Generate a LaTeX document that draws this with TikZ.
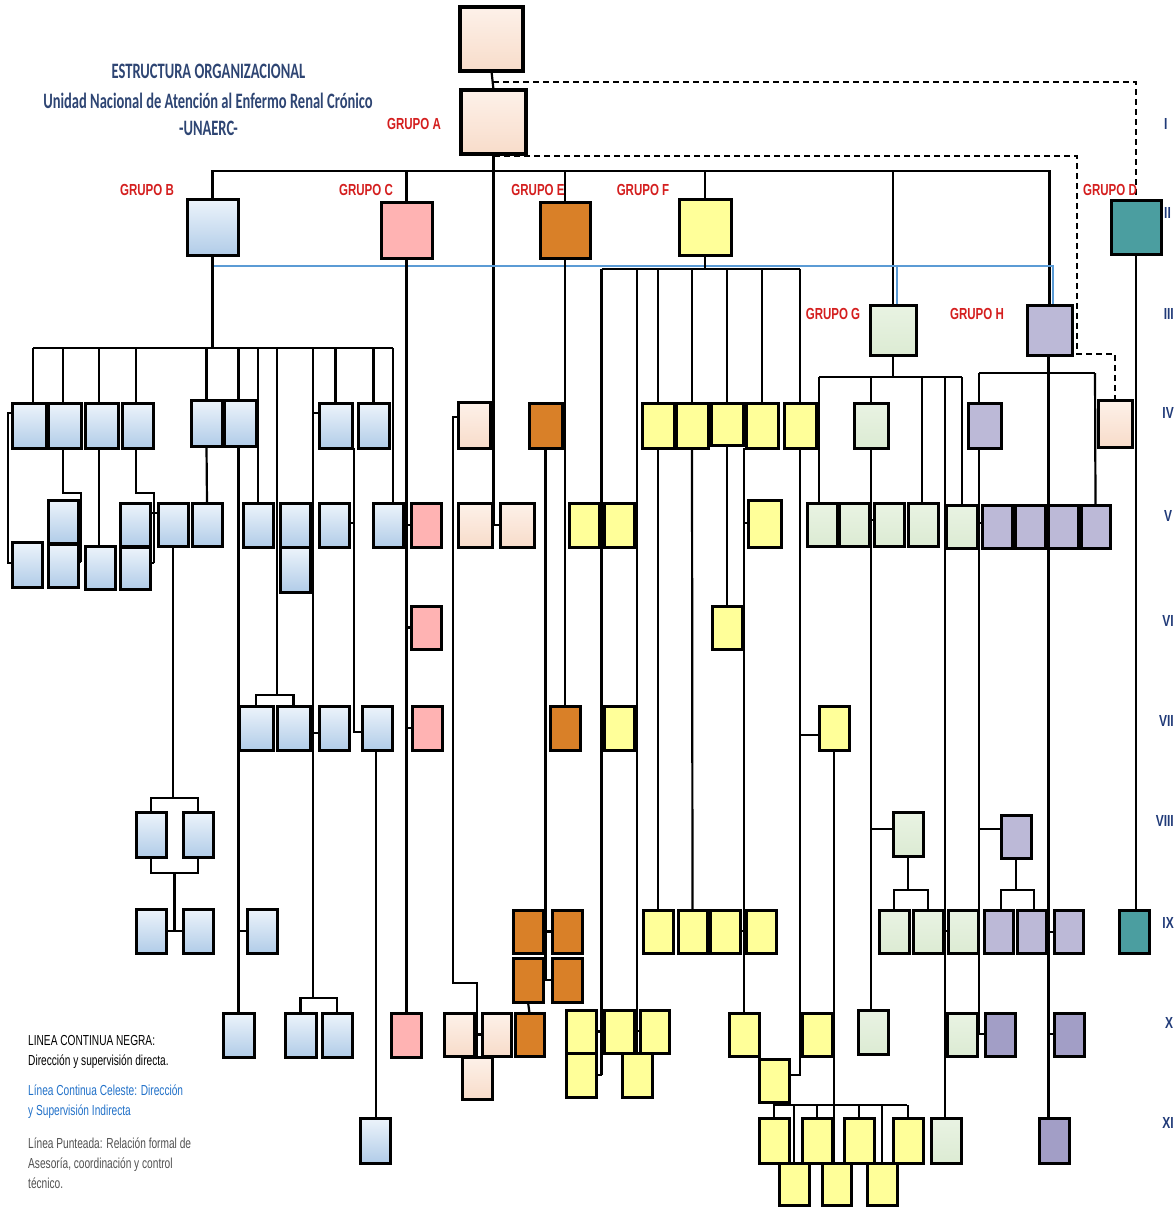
\documentclass[tikz,border=0pt]{standalone}
\usepackage{fontspec}
\setmainfont{Liberation Sans}
\newfontfamily\ttlfont[FakeStretch=0.66]{Carlito}
\newfontfamily\grpfont[FakeStretch=0.72]{Liberation Sans}
\newfontfamily\legfont[FakeStretch=0.7]{Liberation Sans}
\newfontfamily\numfont[FakeStretch=0.75]{Liberation Sans}
\definecolor{peT}{HTML}{FDF1E9}\definecolor{peB}{HTML}{F8DCCA}
\definecolor{blT}{HTML}{EDF4FB}\definecolor{blB}{HTML}{B1CCE8}
\definecolor{pkC}{HTML}{FFB3B3}
\definecolor{orC}{HTML}{D98028}
\definecolor{yeC}{HTML}{FFFF99}
\definecolor{grT}{HTML}{E9F3E3}\definecolor{grB}{HTML}{DCEBD3}
\definecolor{lvC}{HTML}{BCB9D7}
\definecolor{lvD}{HTML}{A29EC6}
\definecolor{tlC}{HTML}{4B9EA0}
\definecolor{celeste}{HTML}{5B9BD5}
\definecolor{navy}{HTML}{2E4573}
\definecolor{navytwo}{HTML}{203A78}
\definecolor{grpred}{HTML}{D41F1F}
\definecolor{legblue}{HTML}{2070C8}
\definecolor{leggray}{HTML}{505050}
\pgfdeclarelayer{bg}
\pgfsetlayers{bg,main}
\newcommand{\obox}[6]{\node[#2, minimum width={(#5)-(#3)}, minimum height={(#6)-(#4)}] (#1) at ({((#3)+(#5))/2},{((#4)+(#6))/2}) {};}
\begin{document}
\begin{tikzpicture}[x=1pt,y=-1pt,
 bx/.style={draw=black,line width=3pt,inner sep=0pt,outer sep=0pt},
 pe/.style={bx,top color=peT,bottom color=peB},
 bl/.style={bx,top color=blT,bottom color=blB},
 pk/.style={bx,fill=pkC},
 orb/.style={bx,fill=orC},
 ye/.style={bx,fill=yeC},
 gr/.style={bx,top color=grT,bottom color=grB},
 lv/.style={bx,fill=lvC},
 lvd/.style={bx,fill=lvD},
 tl/.style={bx,fill=tlC},
 ln/.style={line width=2.2pt,black},
 dl/.style={line width=2.4pt,black,dash pattern=on 6pt off 4pt},
 cl/.style={line width=2pt,celeste},
 ttl/.style={font=\ttlfont\bfseries\fontsize{22}{24}\selectfont,text=navy,inner sep=0pt,anchor=base},
 grp/.style={font=\grpfont\bfseries\fontsize{16}{18}\selectfont,text=grpred,inner sep=0pt,anchor=base},
 leg/.style={font=\legfont\fontsize{14.5}{16}\selectfont,inner sep=0pt,anchor=base west},
 num/.style={font=\numfont\bfseries\fontsize{16}{18}\selectfont,text=navytwo,inner sep=0pt,anchor=base west},
 nume/.style={num,anchor=base east}]
\useasboundingbox (0,0) rectangle (1175,1207);

% ---------- boxes ----------
\obox{T1}{pe,line width=3.4pt}{460}{7}{523}{71}
\obox{T2}{pe,line width=3.4pt}{461}{90}{526}{154}
\obox{B0}{bl}{187}{199}{238}{255}
\obox{C0}{pk}{381}{202}{432}{258}
\obox{E0}{orb}{540}{202}{590}{258}
\obox{F0}{ye}{679}{199}{731}{255}
\obox{D0}{tl}{1111}{200}{1161}{254}
\obox{G0}{gr}{870}{305}{916}{355}
\obox{H0}{lv}{1027}{305}{1072}{355}
% row IV
\obox{b1}{bl}{12}{403}{46}{448}
\obox{b2}{bl}{48}{403}{81}{448}
\obox{b3}{bl}{85}{403}{118}{448}
\obox{b4}{bl}{122}{403}{153}{448}
\obox{b5}{bl}{191}{400}{222}{446}
\obox{b6}{bl}{224}{400}{256}{446}
\obox{b7}{bl}{319}{403}{352}{448}
\obox{b8}{bl}{358}{403}{389}{448}
\obox{p1}{pe}{458}{402}{490}{448}
\obox{e1}{orb}{529}{403}{562}{448}
\obox{y1}{ye}{642}{403}{674}{448}
\obox{y2}{ye}{676}{403}{708}{448}
\obox{y3}{ye}{711}{403}{743}{445}
\obox{y4}{ye}{746}{403}{778}{448}
\obox{y5}{ye}{784}{403}{816}{448}
\obox{g1}{gr}{854}{403}{888}{448}
\obox{h1}{lv}{968}{403}{1001}{448}
\obox{p2}{pe}{1098}{400}{1132}{447}
% row V
\obox{bv1}{bl}{48}{500}{78}{543}
\obox{bv1b}{bl}{48}{544}{78}{587}
\obox{bv0}{bl}{12}{542}{42}{587}
\obox{bv3}{bl}{85}{546}{115}{589}
\obox{bv4}{bl}{120}{503}{150}{546}
\obox{bv4b}{bl}{120}{547}{150}{589}
\obox{bv4c}{bl}{158}{503}{188}{546}
\obox{bv5}{bl}{192}{503}{222}{546}
\obox{bv6}{bl}{243}{503}{273}{547}
\obox{bv7}{bl}{280}{503}{310}{547}
\obox{bv7b}{bl}{280}{547}{310}{592}
\obox{bv8}{bl}{319}{503}{349}{547}
\obox{bv9}{bl}{373}{503}{403}{547}
\obox{cv1}{pk}{411}{503}{441}{547}
\obox{pv1}{pe}{458}{503}{492}{547}
\obox{pv2}{pe}{500}{503}{534}{547}
\obox{yv1}{ye}{569}{503}{599}{547}
\obox{yv2}{ye}{604}{503}{634}{547}
\obox{yv3}{ye}{748}{500}{781}{547}
\obox{gv1}{gr}{807}{503}{837}{546}
\obox{gv2}{gr}{839}{503}{869}{546}
\obox{gv3}{gr}{874}{503}{904}{546}
\obox{gv4}{gr}{908}{503}{938}{546}
\obox{gv5}{gr}{946}{505}{977}{548}
\obox{hv1}{lv}{982}{505}{1012}{548}
\obox{hv2}{lv}{1015}{505}{1045}{548}
\obox{hv3}{lv}{1048}{505}{1078}{548}
\obox{hv4}{lv}{1081}{505}{1110}{548}
% row VI
\obox{cv2}{pk}{411}{606}{441}{649}
\obox{yv6}{ye}{712}{606}{742}{649}
% row VII
\obox{c1}{bl}{239}{706}{273}{750}
\obox{c2}{bl}{277}{706}{310}{750}
\obox{c3}{bl}{319}{706}{349}{750}
\obox{c4}{bl}{362}{706}{392}{750}
\obox{cv3}{pk}{412}{706}{442}{750}
\obox{ev7}{orb}{550}{706}{580}{750}
\obox{yv7}{ye}{604}{706}{634}{750}
\obox{yv7b}{ye}{819}{706}{849}{750}
% row VIII
\obox{bx8a}{bl}{136}{812}{166}{857}
\obox{bx8b}{bl}{183}{812}{213}{857}
\obox{g8}{gr}{893}{812}{923}{856}
\obox{h8}{lv}{1001}{815}{1031}{858}
% row IX
\obox{b9a}{bl}{136}{909}{166}{953}
\obox{b9b}{bl}{183}{909}{213}{953}
\obox{b9c}{bl}{247}{909}{277}{953}
\obox{o9a}{orb}{513}{910}{543}{953}
\obox{o9b}{orb}{552}{910}{582}{953}
\obox{o9c}{orb}{513}{958}{543}{1002}
\obox{o9d}{orb}{552}{958}{582}{1002}
\obox{y9a}{ye}{643}{910}{673}{953}
\obox{y9b}{ye}{678}{910}{707}{953}
\obox{y9c}{ye}{710}{910}{740}{953}
\obox{y9d}{ye}{746}{910}{776}{953}
\obox{g9a}{gr}{879}{910}{909}{953}
\obox{g9b}{gr}{913}{910}{943}{953}
\obox{g9c}{gr}{948}{910}{978}{953}
\obox{h9a}{lv}{984}{910}{1013}{953}
\obox{h9b}{lv}{1017}{910}{1046}{953}
\obox{h9c}{lv}{1054}{910}{1083}{953}
\obox{t9}{tl}{1119}{910}{1149}{953}
% row X
\obox{bX1}{bl}{223}{1013}{254}{1057}
\obox{bX2}{bl}{285}{1013}{316}{1057}
\obox{bX3}{bl}{322}{1013}{352}{1057}
\obox{cX}{pk}{391}{1013}{421}{1057}
\obox{pX1}{pe}{444}{1013}{474}{1056}
\obox{pX2}{pe}{482}{1013}{511}{1056}
\obox{pX3}{pe}{462}{1057}{492}{1099}
\obox{oX}{orb}{515}{1013}{544}{1056}
\obox{yX1}{ye}{566}{1010}{596}{1053}
\obox{yX2}{ye}{566}{1053}{596}{1097}
\obox{yX3}{ye}{604}{1010}{634}{1053}
\obox{yX4}{ye}{640}{1010}{669}{1053}
\obox{yX5}{ye}{622}{1053}{652}{1097}
\obox{yX6}{ye}{729}{1013}{759}{1056}
\obox{yX7}{ye}{802}{1013}{832}{1056}
\obox{yX8}{ye}{759}{1059}{789}{1102}
\obox{gX1}{gr}{858}{1010}{888}{1054}
\obox{gX2}{gr}{947}{1013}{977}{1056}
\obox{hX1}{lvd}{985}{1013}{1015}{1056}
\obox{hX2}{lvd}{1054}{1013}{1084}{1056}
% row XI
\obox{bXI}{bl}{360}{1118}{390}{1163}
\obox{yXI1}{ye}{759}{1118}{789}{1163}
\obox{yXI2}{ye}{802}{1118}{832}{1163}
\obox{yXI3}{ye}{844}{1118}{874}{1163}
\obox{yXI4}{ye}{893}{1118}{923}{1163}
\obox{yXII1}{ye}{779}{1163}{809}{1205}
\obox{yXII2}{ye}{822}{1163}{851}{1205}
\obox{yXII3}{ye}{867}{1163}{897}{1205}
\obox{gXI}{gr}{931}{1118}{961}{1163}
\obox{hXI}{lvd}{1039}{1118}{1069}{1163}

% ---------- connectors ----------
\begin{pgfonlayer}{bg}
\coordinate (busA) at (0,171);
\coordinate (bbus) at (0,348);
\coordinate (fbus) at (0,269);
\coordinate (fb2) at (0,1105);
% top
\draw[ln] (T1.south) -- (T2.north);
\draw[dl] (493,82) -| (D0.north);
\draw[dl] (494,156) -- (1077,156) -- (1077,354) -| (p2.north);
\draw[ln] (T2.south) -- (T2.south |- pv1.east);
\draw[ln] (490,413) -- (493.5,413);
\draw[ln] (pv1.east) -- (pv2.west);
\draw[ln] (458,417) -- (453,417) -- (453,983) -| (pX3.north);
\draw[ln] (pX1.east) -- (pX2.west);
% main bus
\draw[ln] (B0.north) -- (B0.north |- busA) -| (H0.north);
\foreach \n in {C0,E0,F0,G0} \draw[ln] (\n.north) -- (\n.north |- busA);
% celeste
\draw[cl] (B0.south) -- (212.5,266) -- (1053,266) -- (1053,305);
\draw[cl] (897,266) -- (897,305);
% D
\draw[ln] (D0.south) -- (D0.south |- t9.north);
% C
\draw[ln] (C0.south) -- (C0.south |- cX.north);
\foreach \n in {cv1,cv2,cv3} \draw[ln] (C0.south |- \n.west) -- (\n.west);
% E
\draw[ln] (E0.south) -- (ev7.north);
\draw[ln] (562,413) -- (565,413);
\draw[ln] (e1.south) -- (545.5,980);
\draw[ln] (o9a.east) -- (o9b.west);
\draw[ln] (o9c.east) -- (o9d.west);
\draw[ln] (o9c.south) -- (oX.north);
% F
\draw[ln] (F0.south) -- (F0.south |- fbus);
\draw[ln] (601.5,269) -- (800,269);
\draw[ln] (601.5,269) -- (601.5,1075);
\draw[ln] (599,520) -- (604,520);
\draw[ln] (601.5,732) -- (604,732);
\draw[ln] (yX1.east) -- +(6,0);
\draw[ln] (596,1075) -- (601.5,1075);
\draw[ln] (637,269) -- (yX5.north);
\draw[ln] (634,1031) -- (640,1031);
\foreach \n in {y1,y2,y3,y4,y5} \draw[ln] (\n.north) -- (\n.north |- fbus);
\draw[ln] (y1.south) -- (y9a.north);
\draw[ln] (y2.south) -- (y9b.north);
\draw[ln] (y3.south) -- (yv6.north);
\draw[ln] (744,448) -- (yX6.north);
\draw[ln] (744,523) -- (748,523);
\draw[ln] (740,931) -- (746,931);
\draw[ln] (y5.south) -- (800,1075) -- (789,1075);
\draw[ln] (800,735) -- (819,735);
\draw[ln] (800,1033) -- (802,1033);
\draw[ln] (yv7b.south) -- (yv7b.south |- yXII2.north);
\draw[ln] (yX8.south) -- (yX8.south |- fb2);
\draw[ln] (774,1105) -- (907,1105);
\foreach \n in {yXI1,yXI2,yXI3,yXI4} \draw[ln] (\n.north |- fb2) -- (\n.north);
\draw[ln] (794,1105) -- (yXII1.north);
\draw[ln] (882,1105) -- (yXII3.north);
% B
\draw[ln] (B0.south) -- (B0.south |- bbus);
\draw[ln] (33,348) -- (393,348);
\draw[ln] (33,348) -- (33,403);
\draw[ln] (63,348) -- (63,403);
\draw[ln] (99,348) -- (99,403);
\draw[ln] (136,348) -- (136,403);
\draw[ln] (206.5,348) -- (206.5,400);
\draw[ln] (238.5,348) -- (bX1.north);
\draw[ln] (258,348) -- (bv6.north);
\draw[ln] (277,348) -- (277,695);
\draw[ln] (313,348) -- (313,998);
\draw[ln] (335.5,348) -- (b7.north);
\draw[ln] (373.5,348) -- (b8.north);
\draw[ln] (393,348) -- (393,503);
\draw[ln] (12,413) -- (8,413) -- (8,563) -- (12,563);
\draw[ln] (63,448) -- (63,493) -- (81,493) -- (81,562);
\draw[ln] (78,520) -- (81,520);
\draw[ln] (78,562) -- (81,562);
\draw[ln] (99,448) -- (99,546);
\draw[ln] (136,448) -- (136,493) -- (154,493) -- (154,563);
\draw[ln] (150,513) -- (158,513);
\draw[ln] (150,563) -- (154,563);
\draw[ln] (bv4c.south) -- (173,798);
\draw[ln] (bx8a.north) -- (151,798) -- (198,798) -- (bx8b.north);
\draw[ln] (bx8a.south) -- (151,873) -- (198,873) -- (bx8b.south);
\draw[ln] (174.5,873) -- (174.5,931);
\draw[ln] (b9a.east) -- (b9b.west);
\draw[ln] (b5.south) -- (bv5.north);
\draw[ln] (238.5,931) -- (b9c.west);
\draw[ln] (c1.north) -- (256,695) -- (293.5,695) -- (c2.north);
\draw[ln] (319,413) -- (313,413);
\draw[ln] (310,523) -- (313,523);
\draw[ln] (310,569) -- (313,569);
\draw[ln] (313,733) -- (319,733);
\draw[ln] (bX2.north) -- (300.5,998) -- (337,998) -- (bX3.north);
\draw[ln] (354,448) -- (354,732) -- (362,732);
\draw[ln] (349,523) -- (354,523);
\draw[ln] (376,750) -- (376,1118);
% G
\draw[ln] (G0.south) -- (893,377);
\draw[ln] (819,377) -- (962,377);
\draw[ln] (819,377) -- (819,503);
\draw[ln] (871,377) -- (g1.north);
\draw[ln] (922,377) -- (922,503);
\draw[ln] (945,377) -- (945,1118);
\draw[ln] (962,377) -- (962,505);
\draw[ln] (g1.south) -- (871,1010);
\draw[ln] (869,520) -- (874,520);
\draw[ln] (871,829) -- (893,829);
\draw[ln] (g8.south) -- (908,890);
\draw[ln] (g9a.north) -- (894,890) -- (928,890) -- (g9b.north);
\draw[ln] (943,931) -- (948,931);
\draw[ln] (945,1034) -- (947,1034);
% H
\draw[ln] (1048.5,355) -- (1048.5,1118);
\draw[ln] (979,373) -- (1095,373);
\draw[ln] (979,373) -- (979,403);
\draw[ln] (1095,373) -- (hv4.north);
\draw[ln] (979,448) -- (979,1034) -- (985,1034);
\draw[ln] (979,523) -- (982,523);
\draw[ln] (979,829) -- (1001,829);
\draw[ln] (h8.south) -- (1016,890);
\draw[ln] (1001,910) -- (1001,890) -- (1034,890) -- (1034,910);
\draw[ln] (1046,932) -- (1054,932);
\draw[ln] (1048.5,1034) -- (1054,1034);
\end{pgfonlayer}

% ---------- texts ----------
\node[ttl] (tt1) at (208.5,78) {ESTRUCTURA ORGANIZACIONAL};
\node[ttl] (tt2) at (208,108) {Unidad Nacional de Atención al Enfermo Renal Crónico};
\node[ttl] (tt3) at (208.5,135) {-UNAERC-};
\node[grp] (gA) at (414,129) {GRUPO A};
\node[grp] (gB) at (147,195) {GRUPO B};
\node[grp] (gC) at (366,195) {GRUPO C};
\node[grp] (gE) at (538,195) {GRUPO E};
\node[grp] (gF) at (643,195) {GRUPO F};
\node[grp] (gD) at (1110,195) {GRUPO D};
\node[grp] (gG) at (833,319) {GRUPO G};
\node[grp] (gH) at (977,319) {GRUPO H};
\node[leg] (l1) at (28,1045) {LINEA CONTINUA NEGRA:};
\node[leg] (l2) at (28,1065) {Dirección y supervisión directa.};
\node[leg,text=legblue] (l3) at (28,1095) {Línea Continua Celeste: Dirección};
\node[leg,text=legblue] (l4) at (28,1115) {y Supervisión Indirecta};
\node[leg,text=leggray] (l5) at (28,1148) {Línea Punteada: Relación formal de};
\node[leg,text=leggray] (l6) at (28,1168) {Asesoría, coordinación y control};
\node[leg,text=leggray] (l7) at (28,1188) {técnico.};
\node[num] (n1) at (1164,129) {I};
\node[num] (n2) at (1164,218) {II};
\node[nume] (n3) at (1174,319) {III};
\node[nume] (n4) at (1174,418) {IV};
\node[num] (n5) at (1164,521) {V};
\node[nume] (n6) at (1174,626) {VI};
\node[nume] (n7) at (1174,726) {VII};
\node[nume] (n8) at (1174,826) {VIII};
\node[nume] (n9) at (1174,928) {IX};
\node[num] (n10) at (1165,1028) {X};
\node[nume] (n11) at (1174,1128) {XI};
\end{tikzpicture}
\end{document}
